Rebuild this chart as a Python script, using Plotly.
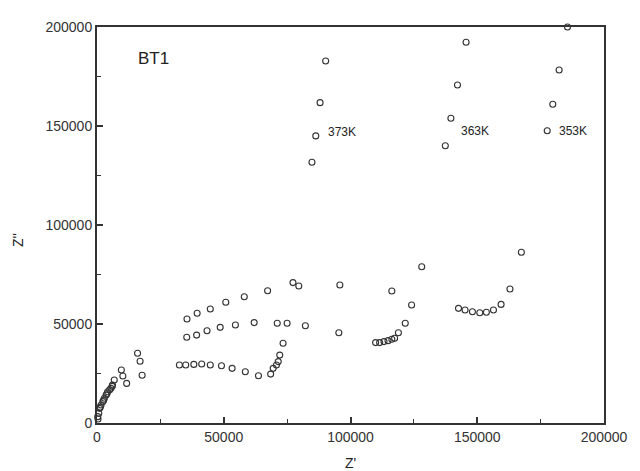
import plotly.graph_objects as go

# ---- data (Z', Z'') ----
x_373 = [400, 1000, 1300, 2600, 2900, 3900, 5000, 6000, 6800, 11700, 17800,
         32500, 35000, 38200, 41300, 44700, 49100, 53300, 58500, 63700, 68500,
         69500, 70800, 71500, 72100, 73400, 75000, 77300,
         84800, 86300, 88000, 90200]
y_373 = [2000, 7400, 8000, 11500, 12500, 14800, 16800, 18500, 21700, 20000, 24100,
         29300, 29300, 29600, 29800, 29300, 28900, 27600, 25900, 23900, 24700,
         27600, 29300, 31000, 34300, 40300, 50400, 70900,
         131700, 145000, 161800, 182800]

x_363 = [700, 2300, 4200, 6100, 10200, 17000,
         35400, 39300, 43400, 48600, 54600, 62000, 71100, 82200, 95400,
         109900, 111500, 113200, 114800, 116300, 117400, 118900, 121600, 124100, 128100,
         137400, 139600, 142200, 145600]
y_363 = [4900, 10800, 15800, 19200, 23700, 31200,
         43300, 44400, 46600, 48300, 49500, 50700, 50400, 49100, 45600,
         40600, 40600, 41100, 41600, 42300, 42800, 45600, 50400, 59600, 78900,
         140000, 153900, 170700, 192300]

x_353 = [300, 1600, 3600, 5500, 9600, 16000,
         35500, 39500, 44700, 50800, 58100, 67300, 79600, 95800, 116300,
         142600, 145200, 148100, 151000, 153600, 156400, 159400, 162900, 167400,
         177600, 179800, 182300, 185600]
y_353 = [3200, 9100, 14100, 17500, 26800, 35200,
         52500, 55400, 57600, 61000, 63800, 66800, 69200, 69700, 66700,
         57900, 57100, 56200, 55700, 55900, 57100, 59900, 67700, 86200,
         147600, 161000, 178300, 200000]

series = [("373K", x_373, y_373), ("363K", x_363, y_363), ("353K", x_353, y_353)]
labels = [("373K", 96700, 147100), ("363K", 149000, 147600), ("353K", 187900, 147600)]

fig = go.Figure()
for name, xs, ys in series:
    fig.add_trace(go.Scatter(
        x=xs, y=ys, mode="markers", name=name, cliponaxis=False,
        marker=dict(symbol="circle-open", size=6, color="#333333", line=dict(width=1.1)),
    ))

for text, lx, ly in labels:
    fig.add_annotation(x=lx, y=ly, text=text, showarrow=False,
                       font=dict(family="Arial", size=12, color="#222222"))
fig.add_annotation(x=22300, y=184300, text="BT1", showarrow=False,
                   font=dict(family="Arial", size=17, color="#222222"))

# axis titles
fig.add_annotation(xref="paper", yref="paper", x=0.5, y=0, yshift=-40,
                   text="Z'", showarrow=False, xanchor="center", yanchor="middle",
                   font=dict(family="Arial", size=14, color="#222222"))
fig.add_annotation(xref="paper", yref="paper", x=0, y=0.462, xshift=-79,
                   text="Z''", showarrow=False, textangle=-90,
                   xanchor="center", yanchor="middle",
                   font=dict(family="Arial", size=14, color="#222222"))

axis_common = dict(
    range=[0, 200000], dtick=50000, tickformat="d",
    showgrid=False, zeroline=False,
    showline=True, linecolor="#333333", linewidth=2, mirror=True,
    ticks="inside", ticklen=6, tickwidth=1.5, tickcolor="#333333",
    tickfont=dict(family="Arial", size=14, color="#333333"),
    minor=dict(dtick=25000, ticks="inside", ticklen=4, tickwidth=1.2, tickcolor="#333333"),
)

fig.update_layout(
    width=640, height=471,
    margin=dict(l=97, r=27, t=27, b=48),
    paper_bgcolor="white", plot_bgcolor="white",
    showlegend=False,
    xaxis=dict(**axis_common),
    yaxis=dict(**axis_common),
)

fig.write_html("out.html")
